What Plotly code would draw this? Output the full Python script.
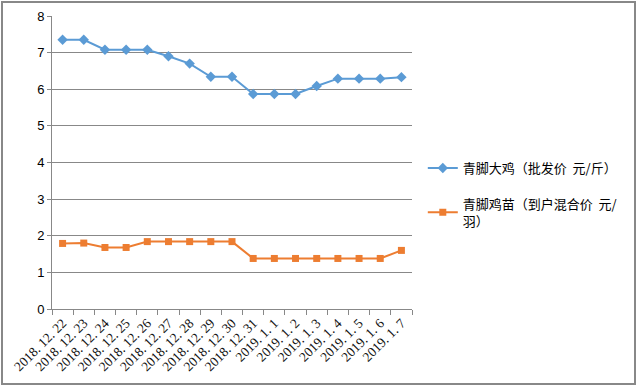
import plotly.graph_objects as go

dates = ["2018. 12. 22", "2018. 12. 23", "2018. 12. 24", "2018. 12. 25", "2018. 12. 26",
         "2018. 12. 27", "2018. 12. 28", "2018. 12. 29", "2018. 12. 30", "2018. 12. 31",
         "2019. 1. 1", "2019. 1. 2", "2019. 1. 3", "2019. 1. 4", "2019. 1. 5", "2019. 1. 6", "2019. 1. 7"]
chicken = [7.35, 7.35, 7.08, 7.08, 7.08, 6.9, 6.7, 6.34, 6.34, 5.87, 5.87, 5.87, 6.09, 6.29, 6.29, 6.29, 6.33]
chick = [1.79, 1.8, 1.68, 1.68, 1.84, 1.84, 1.84, 1.84, 1.84, 1.38, 1.38, 1.38, 1.38, 1.38, 1.38, 1.38, 1.6]
name1 = "青脚大鸡（批发价  元/斤）"
name2 = "青脚鸡苗（到户混合价  元/<br>羽）"

fig = go.Figure()
fig.add_trace(go.Scatter(x=dates, y=chicken, name=name1, mode="lines+markers", legendgroup="a",
                         line=dict(color="#5B9BD5", width=2),
                         marker=dict(symbol="diamond", size=8, color="#5B9BD5")))
fig.add_trace(go.Scatter(x=dates, y=chick, name=name2, mode="lines+markers", legendgroup="b",
                         line=dict(color="#ED7D31", width=2),
                         marker=dict(symbol="square", size=7, color="#ED7D31")))

fig.update_layout(
    width=639, height=387,
    margin=dict(l=52, r=227, t=16, b=78, autoexpand=False),
    paper_bgcolor="white", plot_bgcolor="white",
    font=dict(family="Noto Sans CJK SC", size=12, color="black"),
    legend=dict(x=1.03, y=(309 - 153) / 293, xanchor="left", yanchor="top",
                font=dict(family="Noto Sans CJK SC", size=13, color="black"),
                tracegroupgap=16, itemwidth=30, borderwidth=0),
    xaxis=dict(type="category", showgrid=False, showline=True, linecolor="#888", linewidth=1,
               ticks="outside", tickson="boundaries", ticklen=5, tickcolor="#888",
               tickangle=-45, tickfont=dict(family="Liberation Serif", size=13.5, color="#111"),
               range=[-0.5, 16.5], automargin=False),
    yaxis=dict(range=[0, 8], dtick=1, showgrid=True, gridcolor="#888", gridwidth=1,
               showline=True, linecolor="#888", linewidth=1, ticks="outside", ticklen=4,
               tickcolor="#888", zeroline=False, automargin=False,
               tickfont=dict(family="Liberation Sans", size=13, color="black")),
    shapes=[dict(type="rect", xref="paper", yref="paper", x0=-50/360, x1=1 + 223/360,
                 y0=-75/293, y1=1 + 14/293, line=dict(color="#888", width=2))],
)
fig.write_html("out.html", config={"displayModeBar": False},
               post_script="document.body.style.margin='0';")
